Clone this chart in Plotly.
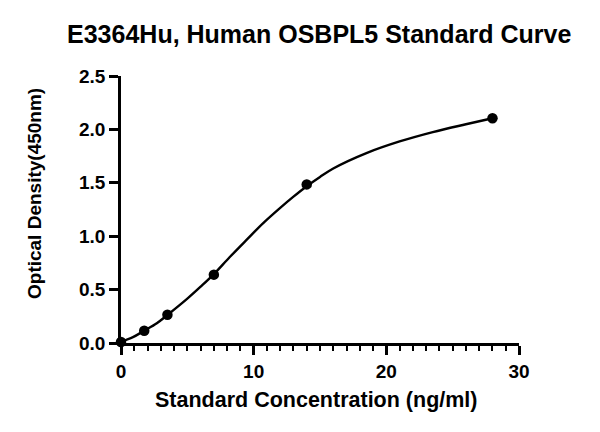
import plotly.graph_objects as go

# Standard points
concentration = [0, 1.75, 3.5, 7, 14, 28]
optical_density = [0.01, 0.115, 0.265, 0.64, 1.485, 2.105]

# Fitted standard curve
curve_x = [0, 0.9, 1.75, 2.7, 3.5, 5, 6, 7, 8.2, 9.5, 10.7, 12, 13, 14,
           15, 16, 18.5, 21, 23.5, 26, 28]
curve_y = [0.012, 0.055, 0.115, 0.185, 0.262, 0.415, 0.527, 0.645, 0.805, 0.97,
           1.12, 1.265, 1.37, 1.468, 1.555, 1.634, 1.778, 1.887, 1.975, 2.048, 2.104]

x_ticks = [0, 10, 20, 30]
y_ticks = [0.0, 0.5, 1.0, 1.5, 2.0, 2.5]
y_tick_labels = ["0.0", "0.5", "1.0", "1.5", "2.0", "2.5"]

title_text = "E3364Hu, Human OSBPL5 Standard Curve"
x_title = "Standard Concentration (ng/ml)"
y_title = "Optical Density(450nm)"

FONT = "Liberation Sans, Arial, sans-serif"

fig = go.Figure()
fig.add_trace(go.Scatter(
    x=curve_x, y=curve_y, mode="lines",
    line=dict(color="black", width=2.4, shape="spline", smoothing=1.0),
    hoverinfo="skip", cliponaxis=False, showlegend=False))
fig.add_trace(go.Scatter(
    x=concentration, y=optical_density, mode="markers",
    marker=dict(color="black", size=10.5),
    cliponaxis=False, showlegend=False))

fig.update_layout(
    width=600, height=432,
    margin=dict(l=121, r=81, t=76, b=89),
    paper_bgcolor="white", plot_bgcolor="white",
    title=dict(text=f"<b>{title_text}</b>",
               x=0.532, xanchor="center", y=0.92, yanchor="middle",
               font=dict(family=FONT, size=25, color="black")),
    font=dict(family=FONT, color="black"),
    annotations=[
        dict(text=f"<b>{x_title}</b>", xref="paper", yref="paper",
             x=(316 - 121) / 398, y=-(400 - 343) / 267,
             xanchor="center", yanchor="middle", showarrow=False,
             font=dict(family=FONT, size=21.5, color="black")),
        dict(text=f"<b>{y_title}</b>", xref="paper", yref="paper",
             x=-(121 - 34) / 398, y=(343 - 194) / 267, textangle=-90,
             xanchor="center", yanchor="middle", showarrow=False,
             font=dict(family=FONT, size=19, color="black")),
    ],
)
fig.update_xaxes(
    range=[0, 30], tickvals=x_ticks, ticktext=[f"<b>{v}</b>" for v in x_ticks],
    showgrid=False, zeroline=False, showline=True, linecolor="black", linewidth=2.5,
    ticks="outside", ticklen=9, tickwidth=2.5, tickcolor="black",
    tickfont=dict(family=FONT, size=19, color="black"),
    minor=dict(dtick=1, ticks="outside", ticklen=5, tickwidth=2, tickcolor="black", showgrid=False),
)
fig.update_yaxes(
    range=[0, 2.5], tickvals=y_ticks, ticktext=[f"<b>{t}</b>" for t in y_tick_labels],
    showgrid=False, zeroline=False, showline=True, linecolor="black", linewidth=2.5,
    ticks="outside", ticklen=9, tickwidth=2.5, tickcolor="black",
    tickfont=dict(family=FONT, size=19, color="black"),
)

fig.write_html("out.html")
